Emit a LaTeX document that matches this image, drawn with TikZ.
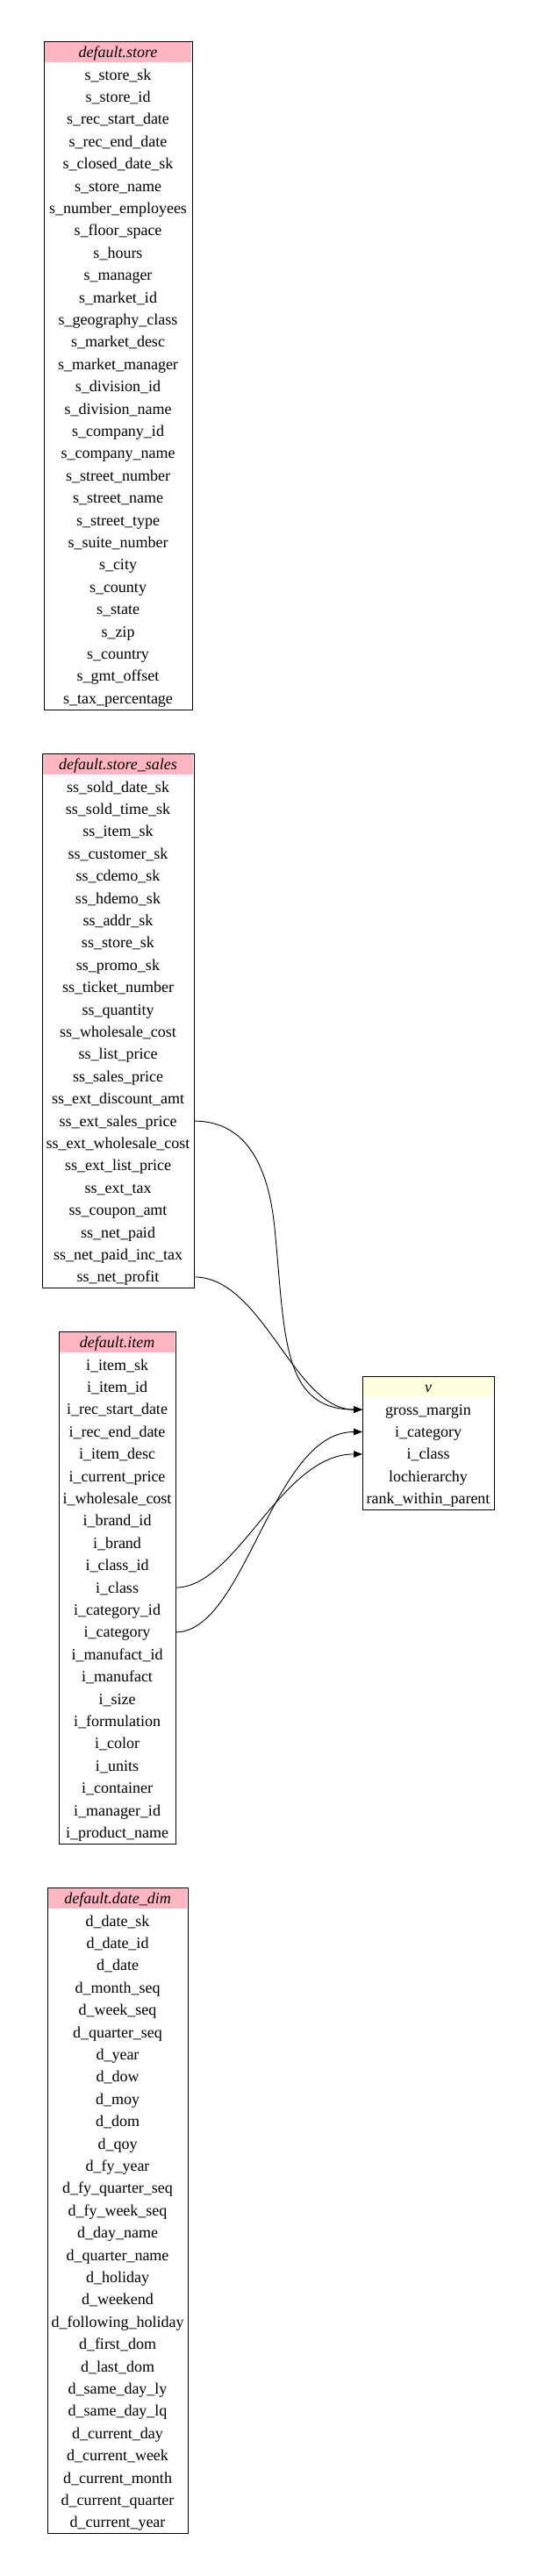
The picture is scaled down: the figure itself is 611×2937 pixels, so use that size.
\documentclass[tikz,border=0pt]{standalone}
\usepackage{fontspec}
\setmainfont{Liberation Serif}
\usepackage{xcolor}
\usepackage{tikz}
\usetikzlibrary{positioning,arrows.meta,fit}

\definecolor{hdpink}{RGB}{255,182,193}
\definecolor{hdyellow}{RGB}{255,255,224}

\begin{document}
\begin{tikzpicture}[
  x=1pt, y=-1pt,
  font=\fontsize{18}{22}\selectfont,
  hd/.style={fill=hdpink, draw=white, line width=2.5pt, outer sep=0pt, anchor=north west,
    minimum height=25.4pt, text height=14pt, text depth=2pt, font=\fontsize{18}{22}\selectfont\itshape},
  fld/.style={anchor=north west, outer sep=0pt, minimum height=25.4pt, text height=14pt, text depth=2pt},
  tbl/.style={draw, line width=1pt, inner sep=0pt, outer sep=0pt},
  arr/.style={-{Triangle[length=10pt, width=7.5pt]}, line width=0.9pt}]

\useasboundingbox (0,0) rectangle (611,2937);

% default.store
\node[hd, minimum width=169pt] (store) at (50,47) {default.store};
\foreach \f [count=\i] in {s\_store\_sk, s\_store\_id, s\_rec\_start\_date, s\_rec\_end\_date,
  s\_closed\_date\_sk, s\_store\_name, s\_number\_employees, s\_floor\_space, s\_hours,
  s\_manager, s\_market\_id, s\_geography\_class, s\_market\_desc, s\_market\_manager,
  s\_division\_id, s\_division\_name, s\_company\_id, s\_company\_name, s\_street\_number,
  s\_street\_name, s\_street\_type, s\_suite\_number, s\_city, s\_county, s\_state, s\_zip,
  s\_country, s\_gmt\_offset, s\_tax\_percentage}
  \node[fld, minimum width=169pt] (store-\i) at (50,{47+25.4*\i}) {\f};
\node[tbl, fit=(store)(store-29)] (store-box) {};

% default.store_sales
\node[hd, minimum width=173pt] (sales) at (48,859) {default.store\_sales};
\foreach \f [count=\i] in {ss\_sold\_date\_sk, ss\_sold\_time\_sk, ss\_item\_sk, ss\_customer\_sk,
  ss\_cdemo\_sk, ss\_hdemo\_sk, ss\_addr\_sk, ss\_store\_sk, ss\_promo\_sk, ss\_ticket\_number,
  ss\_quantity, ss\_wholesale\_cost, ss\_list\_price, ss\_sales\_price, ss\_ext\_discount\_amt,
  ss\_ext\_sales\_price, ss\_ext\_wholesale\_cost, ss\_ext\_list\_price, ss\_ext\_tax,
  ss\_coupon\_amt, ss\_net\_paid, ss\_net\_paid\_inc\_tax, ss\_net\_profit}
  \node[fld, minimum width=173pt] (sales-\i) at (48,{859+25.4*\i}) {\f};
\node[tbl, fit=(sales)(sales-23)] (sales-box) {};

% default.item
\node[hd, minimum width=133pt] (item) at (67,1518) {default.item};
\foreach \f [count=\i] in {i\_item\_sk, i\_item\_id, i\_rec\_start\_date, i\_rec\_end\_date,
  i\_item\_desc, i\_current\_price, i\_wholesale\_cost, i\_brand\_id, i\_brand, i\_class\_id,
  i\_class, i\_category\_id, i\_category, i\_manufact\_id, i\_manufact, i\_size,
  i\_formulation, i\_color, i\_units, i\_container, i\_manager\_id, i\_product\_name}
  \node[fld, minimum width=133pt] (item-\i) at (67,{1518+25.4*\i}) {\f};
\node[tbl, fit=(item)(item-22)] (item-box) {};

% default.date_dim
\node[hd, minimum width=160pt] (date) at (54,2152) {default.date\_dim};
\foreach \f [count=\i] in {d\_date\_sk, d\_date\_id, d\_date, d\_month\_seq, d\_week\_seq,
  d\_quarter\_seq, d\_year, d\_dow, d\_moy, d\_dom, d\_qoy, d\_fy\_year, d\_fy\_quarter\_seq,
  d\_fy\_week\_seq, d\_day\_name, d\_quarter\_name, d\_holiday, d\_weekend,
  d\_following\_holiday, d\_first\_dom, d\_last\_dom, d\_same\_day\_ly, d\_same\_day\_lq,
  d\_current\_day, d\_current\_week, d\_current\_month, d\_current\_quarter, d\_current\_year}
  \node[fld, minimum width=160pt] (date-\i) at (54,{2152+25.4*\i}) {\f};
\node[tbl, fit=(date)(date-28)] (date-box) {};

% v
\node[hd, fill=hdyellow, minimum width=150pt] (v) at (413,1569) {v};
\foreach \f [count=\i] in {gross\_margin, i\_category, i\_class, lochierarchy, rank\_within\_parent}
  \node[fld, minimum width=150pt] (v-\i) at (413,{1569+25.4*\i}) {\f};
\node[tbl, fit=(v)(v-5)] (v-box) {};

% lineage
\coordinate (m1) at (313,1400);
\draw[arr] (sales-16.east) .. controls +(54,0) and +(-8,-80) .. (m1)
  .. controls +(12,120) and +(-93,0) .. (v-1.west);
\draw[arr] (sales-23.east) .. controls +(79,0) and +(-78,0) .. (v-1.west);
\draw[arr] (item-11.east) .. controls +(70,0) and +(-93,0) .. (v-3.west);
\draw[arr] (item-13.east) .. controls +(80,0) and +(-103,0) .. (v-2.west);
\end{tikzpicture}
\end{document}
